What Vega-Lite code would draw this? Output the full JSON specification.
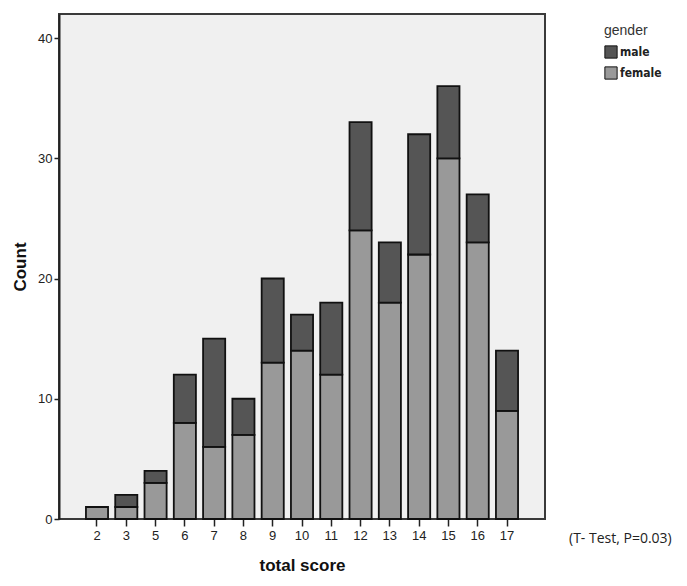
{
  "$schema": "https://vega.github.io/schema/vega-lite/v6.json",
  "autosize": "none",
  "width": 486,
  "height": 505,
  "padding": {"left": 59, "top": 14, "right": 142, "bottom": 67},
  "background": "white",
  "config": {
    "font": "Liberation Sans",
    "view": {"fill": "#f0f0f0", "stroke": "#3a3a3a", "strokeWidth": 2}
  },
  "data": {
    "values": [
      {"score": "2", "gender": "female", "count": 1},
      {"score": "3", "gender": "female", "count": 1},
      {"score": "3", "gender": "male", "count": 1},
      {"score": "5", "gender": "female", "count": 3},
      {"score": "5", "gender": "male", "count": 1},
      {"score": "6", "gender": "female", "count": 8},
      {"score": "6", "gender": "male", "count": 4},
      {"score": "7", "gender": "female", "count": 6},
      {"score": "7", "gender": "male", "count": 9},
      {"score": "8", "gender": "female", "count": 7},
      {"score": "8", "gender": "male", "count": 3},
      {"score": "9", "gender": "female", "count": 13},
      {"score": "9", "gender": "male", "count": 7},
      {"score": "10", "gender": "female", "count": 14},
      {"score": "10", "gender": "male", "count": 3},
      {"score": "11", "gender": "female", "count": 12},
      {"score": "11", "gender": "male", "count": 6},
      {"score": "12", "gender": "female", "count": 24},
      {"score": "12", "gender": "male", "count": 9},
      {"score": "13", "gender": "female", "count": 18},
      {"score": "13", "gender": "male", "count": 5},
      {"score": "14", "gender": "female", "count": 22},
      {"score": "14", "gender": "male", "count": 10},
      {"score": "15", "gender": "female", "count": 30},
      {"score": "15", "gender": "male", "count": 6},
      {"score": "16", "gender": "female", "count": 23},
      {"score": "16", "gender": "male", "count": 4},
      {"score": "17", "gender": "female", "count": 9},
      {"score": "17", "gender": "male", "count": 5}
    ]
  },
  "layer": [
    {
      "mark": {"type": "bar", "stroke": "#111111", "strokeWidth": 1.8},
      "encoding": {
        "x": {
          "field": "score",
          "type": "ordinal",
          "sort": ["2","3","5","6","7","8","9","10","11","12","13","14","15","16","17"],
          "scale": {"paddingInner": 0.245, "paddingOuter": 0.92},
          "axis": {
            "title": "total score",
            "titleFont": "Liberation Sans",
            "titleFontSize": 17,
            "titleFontWeight": "bold",
            "titleColor": "#111",
            "titleY": 46,
            "titleBaseline": "middle",
            "labelAngle": 0,
            "labelFontSize": 13,
            "labelColor": "#222",
            "labelPadding": 3,
            "tickSize": 7,
            "tickColor": "#222",
            "tickWidth": 1.5,
            "domain": false
          }
        },
        "y": {
          "field": "count",
          "type": "quantitative",
          "stack": "zero",
          "scale": {"domain": [0, 42], "nice": false},
          "axis": {
            "title": "Count",
            "titleFontSize": 17,
            "titleFontWeight": "bold",
            "titleColor": "#111",
            "titleX": -30,
            "values": [0, 10, 20, 30, 40],
            "grid": false,
            "labelFontSize": 13,
            "labelColor": "#222",
            "labelPadding": 2,
            "tickSize": 5,
            "tickColor": "#222",
            "tickWidth": 1.5,
            "domainColor": "#222",
            "domainWidth": 2
          }
        },
        "color": {
          "field": "gender",
          "type": "nominal",
          "scale": {"domain": ["male", "female"], "range": ["#555555", "#999999"]},
          "legend": {
            "orient": "none",
            "legendX": 545,
            "legendY": 10,
            "title": "gender",
            "titleFontSize": 14,
            "titleFontWeight": "normal",
            "titleColor": "#333",
            "titlePadding": 7,
            "labelFont": "DejaVu Sans Condensed",
            "labelFontSize": 12,
            "labelFontWeight": "bold",
            "labelColor": "#222",
            "labelOffset": 2,
            "symbolType": "square",
            "symbolSize": 150,
            "symbolStrokeColor": "#111",
            "symbolStrokeWidth": 1,
            "rowPadding": 3
          }
        },
        "order": {"field": "gender", "sort": "ascending"}
      }
    },
    {
      "data": {"values": [{"label": "(T- Test, P=0.03)", "score": "17", "count": 0}]},
      "mark": {"type": "text", "align": "left", "baseline": "middle", "dx": 62, "dy": 20, "fontSize": 14, "color": "#222", "font": "Open Sans"},
      "encoding": {
        "x": {"field": "score", "type": "ordinal", "sort": ["2","3","5","6","7","8","9","10","11","12","13","14","15","16","17"]},
        "y": {"field": "count", "type": "quantitative"},
        "text": {"field": "label"}
      }
    }
  ]
}
